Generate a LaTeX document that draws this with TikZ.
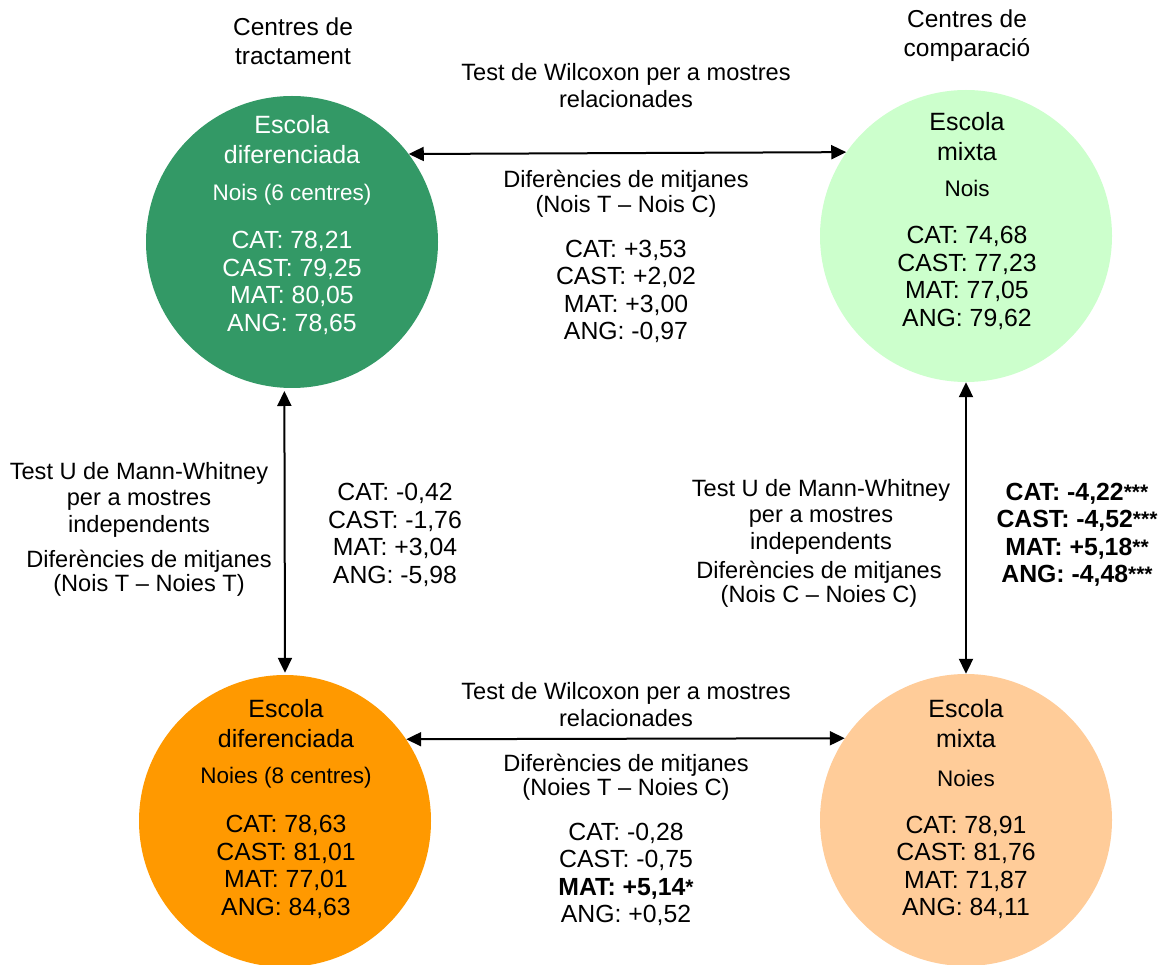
\documentclass[tikz,border=0pt]{standalone}
\usepackage{fontspec}
\setmainfont{Liberation Sans}
\usetikzlibrary{arrows.meta}
\definecolor{dgreen}{HTML}{339966}
\definecolor{lgreen}{HTML}{CCFFCC}
\definecolor{dorange}{HTML}{FF9900}
\definecolor{lorange}{HTML}{FFCC99}
\newcommand{\stars}[1]{\raisebox{1pt}{\fontsize{21}{21}\selectfont #1}}
\begin{document}
\begin{tikzpicture}[x=1pt,y=-1pt,
  circ/.style={circle,minimum size=292pt,inner sep=0pt,draw=none},
  lbl/.style={align=center,inner sep=0pt,font=\fontsize{23.6}{26.5}\selectfont},
  dif/.style={align=center,inner sep=0pt,font=\fontsize{23.6}{24.5}\selectfont},
  vals/.style={align=center,inner sep=0pt,font=\fontsize{24.8}{27.5}\selectfont},
  ttl/.style={align=center,inner sep=0pt,font=\fontsize{25}{30}\selectfont},
  hdr/.style={align=center,inner sep=0pt,font=\fontsize{24.5}{29}\selectfont},
  sub/.style={inner sep=0pt,font=\fontsize{22.5}{26}\selectfont},
  link/.style={line width=2pt,{Triangle[length=15pt,width=14pt]}-{Triangle[length=15pt,width=14pt]}}]
\useasboundingbox (0,0) rectangle (1162,965);

% circles
\node[circ,fill=dgreen] (TL) at (292,242) {};
\node[circ,fill=lgreen] (TR) at (966,236) {};
\node[circ,fill=dorange] (BL) at (285,821) {};
\node[circ,fill=lorange] (BR) at (966,820) {};

% headers
\node[hdr] (h1) at (293,41.5) {Centres de\\tractament};
\node[hdr] (h2) at (967,36) {Centres de\\comparació};

% top-left circle text
\node[ttl,text=white] (TLt) at (292,140) {Escola\\diferenciada};
\node[sub,text=white] (TLs) at (292,195) {Nois (6 centres)};
\node[vals,text=white] (TLv) at (292,283) {CAT: 78,21\\CAST: 79,25\\MAT: 80,05\\ANG: 78,65};

% top-right circle text
\node[ttl] (TRt) at (967,137) {Escola\\mixta};
\node[sub] (TRs) at (967,188) {Nois};
\node[vals] (TRv) at (967,278) {CAT: 74,68\\CAST: 77,23\\MAT: 77,05\\ANG: 79,62};

% bottom-left circle text
\node[ttl] (BLt) at (286,724) {Escola\\diferenciada};
\node[sub] (BLs) at (286,778) {Noies (8 centres)};
\node[vals] (BLv) at (286,867) {CAT: 78,63\\CAST: 81,01\\MAT: 77,01\\ANG: 84,63};

% bottom-right circle text
\node[ttl] (BRt) at (966,723.5) {Escola\\mixta};
\node[sub] (BRs) at (966,778) {Noies};
\node[vals] (BRv) at (966,867.5) {CAT: 78,91\\CAST: 81,76\\MAT: 71,87\\ANG: 84,11};

% connectors
\draw[link] (TL.37) -- (TR.145.83);
\draw[link] (BL.34.17) -- (BR.146.32);
\draw[link,shorten <=3pt,shorten >=2pt] (TL.267.25) -- (BL.90);
\draw[link] (TR.270) -- (BR.90);

% top middle labels
\node[lbl] (tw) at (626,85.5) {Test de Wilcoxon per a mostres\\relacionades};
\node[dif] (td) at (626,194) {Diferències de mitjanes\\(Nois T – Nois C)};
\node[vals] (tv) at (626,291.5) {CAT: +3,53\\CAST: +2,02\\MAT: +3,00\\ANG: -0,97};

% bottom middle labels
\node[lbl] (bw) at (626,704.5) {Test de Wilcoxon per a mostres\\relacionades};
\node[dif] (bd) at (626,777) {Diferències de mitjanes\\(Noies T – Noies C)};
\node[vals] (bv) at (626,874.5) {CAT: -0,28\\CAST: -0,75\\\textbf{MAT: +5,14}\stars{\bfseries *}\\ANG: +0,52};

% left middle labels
\node[lbl] (lm) at (139,499.5) {Test U de Mann-Whitney\\per a mostres\\independents};
\node[dif] (ld) at (149,573.5) {Diferències de mitjanes\\(Nois T – Noies T)};
\node[vals] (lv) at (395,535) {CAT: -0,42\\CAST: -1,76\\MAT: +3,04\\ANG: -5,98};

% right middle labels
\node[lbl] (rm) at (821,516.5) {Test U de Mann-Whitney\\per a mostres\\independents};
\node[dif] (rd) at (819,584.5) {Diferències de mitjanes\\(Nois C – Noies C)};
\node[vals,font=\fontsize{24.8}{27.5}\selectfont\bfseries] (rv) at (1077,535) {CAT: -4,22\stars{***}\\CAST: -4,52\stars{***}\\MAT: +5,18\stars{**}\\ANG: -4,48\stars{***}};
\end{tikzpicture}
\end{document}
